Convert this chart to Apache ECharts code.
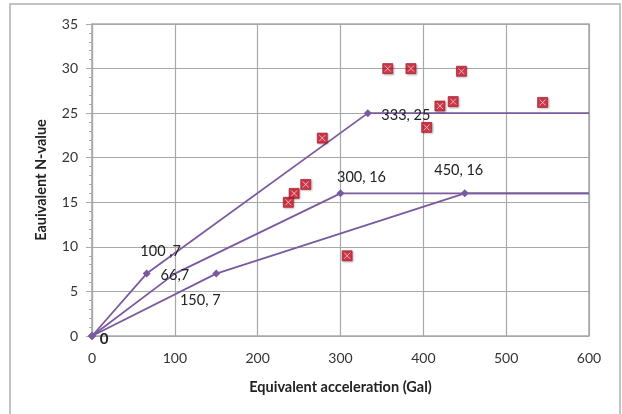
<!DOCTYPE html>
<html><head><meta charset="utf-8">
<script src="https://cdn.jsdelivr.net/npm/echarts@6/dist/echarts.min.js"></script>
<style>html,body{margin:0;padding:0;background:#fff}#c{width:622px;height:414px}</style>
</head><body><div id="c"></div>
<script>
// Data
const lineA = [[0,0],[66,7],[333,25],[600,25]];
const lineB = [[0,0],[100,7],[300,16],[600,16]];
const lineC = [[0,0],[150,7],[450,16],[600,16]];
const labelsA = ['0','100 ,7','333, 25',''];
const labelsB = ['','66,7','300, 16',''];
const labelsC = ['','150, 7','450, 16',''];
const observed = [[357,30],[385,30],[446,29.7],[420,25.8],[436,26.3],[544,26.2],[404,23.4],[278,22.2],[258,17.0],[244,16.0],[237,15.0],[308,9.0]];
const xTicks = [0,100,200,300,400,500,600];
const yTicks = [0,5,10,15,20,25,30,35];

const FONT = 'Lato, "Open Sans", sans-serif';
const purple = '#7a5a9f';
// label styling by [series][point]
const labelCfg = {
  A: [{offset:[12,3],fontWeight:'bold',fontSize:15},{offset:[14,-22]},{offset:[38,2]},null],
  B: [null,{offset:[0,2]},{offset:[21,-16]},null],
  C: [null,{offset:[-16,27]},{offset:[-6,-23]},null]
};
function build(pts, texts, cfg, hideIdx){
  return pts.map((p,i)=>{
    const item = {value:p};
    if (texts[i]) {
      item.label = Object.assign({show:true, position:'inside', formatter:texts[i], color:'#222', fontSize:14.5, fontFamily:FONT}, cfg[i]);
    }
    if (hideIdx.includes(i)) item.symbolSize = 0;
    return item;
  });
}
const lineSeries = (data)=>({
  type:'line', data, symbol:'diamond', symbolSize:8, z:3,
  lineStyle:{color:purple,width:1.8}, itemStyle:{color:purple},
  label:{show:false}, emphasis:{disabled:true}, animation:false
});

const chart = echarts.init(document.getElementById('c'), null, {renderer:'canvas'});
chart.setOption({
  animation:false,
  grid:{left:92,right:33,top:24,bottom:78,show:true,borderColor:'#a8a8a8',borderWidth:1.5},
  graphic:[{type:'rect',shape:{x:10,y:4,width:610,height:420},style:{fill:'none',stroke:'#b0b0b0',lineWidth:1.5},z:-1}],
  xAxis:{type:'value',min:0,max:600,interval:100,
    name:'Equivalent acceleration (Gal)',nameLocation:'middle',nameGap:44,
    nameTextStyle:{fontFamily:FONT,fontWeight:'bold',fontSize:14.5,color:'#222'},
    axisLine:{show:false},axisTick:{show:false},
    axisLabel:{fontFamily:FONT,fontSize:14,color:'#333',margin:15,formatter:v=>xTicks.includes(v)?String(v):''},
    splitLine:{show:true,lineStyle:{color:'#a8a8a8',width:1.2}}},
  yAxis:{type:'value',min:0,max:35,interval:5,
    name:'Eauivalent N-value',nameLocation:'middle',nameGap:43,
    nameTextStyle:{fontFamily:FONT,fontWeight:'bold',fontSize:14.5,color:'#222'},
    axisLine:{show:true,lineStyle:{color:'#a8a8a8',width:1.2}},
    axisTick:{show:true,length:6,lineStyle:{color:'#a8a8a8'}},
    minorTick:{show:true,splitNumber:5,length:3,lineStyle:{color:'#a8a8a8'}},
    axisLabel:{fontFamily:FONT,fontSize:14,color:'#333',margin:14,formatter:v=>yTicks.includes(v)?String(v):''},
    splitLine:{show:true,lineStyle:{color:'#a8a8a8',width:1.2}}},
  series:[
    lineSeries(build(lineA,labelsA,labelCfg.A,[3])),
    lineSeries(build(lineB,labelsB,labelCfg.B,[1,3])),
    lineSeries(build(lineC,labelsC,labelCfg.C,[3])),
    {type:'scatter',data:observed,symbol:'rect',symbolSize:10,z:4,
      itemStyle:{color:'#d0142a',borderColor:'#a8101f',borderWidth:0.8,shadowColor:'rgba(0,0,0,0.3)',shadowBlur:2,shadowOffsetX:1,shadowOffsetY:1},emphasis:{disabled:true}},
    {type:'scatter',data:observed,symbol:'path://M0,0L10,10M10,0L0,10',symbolSize:6,z:5,
      itemStyle:{color:'none',borderColor:'#f4d0d4',borderWidth:1},emphasis:{disabled:true}}
  ]
});
</script></body></html>
